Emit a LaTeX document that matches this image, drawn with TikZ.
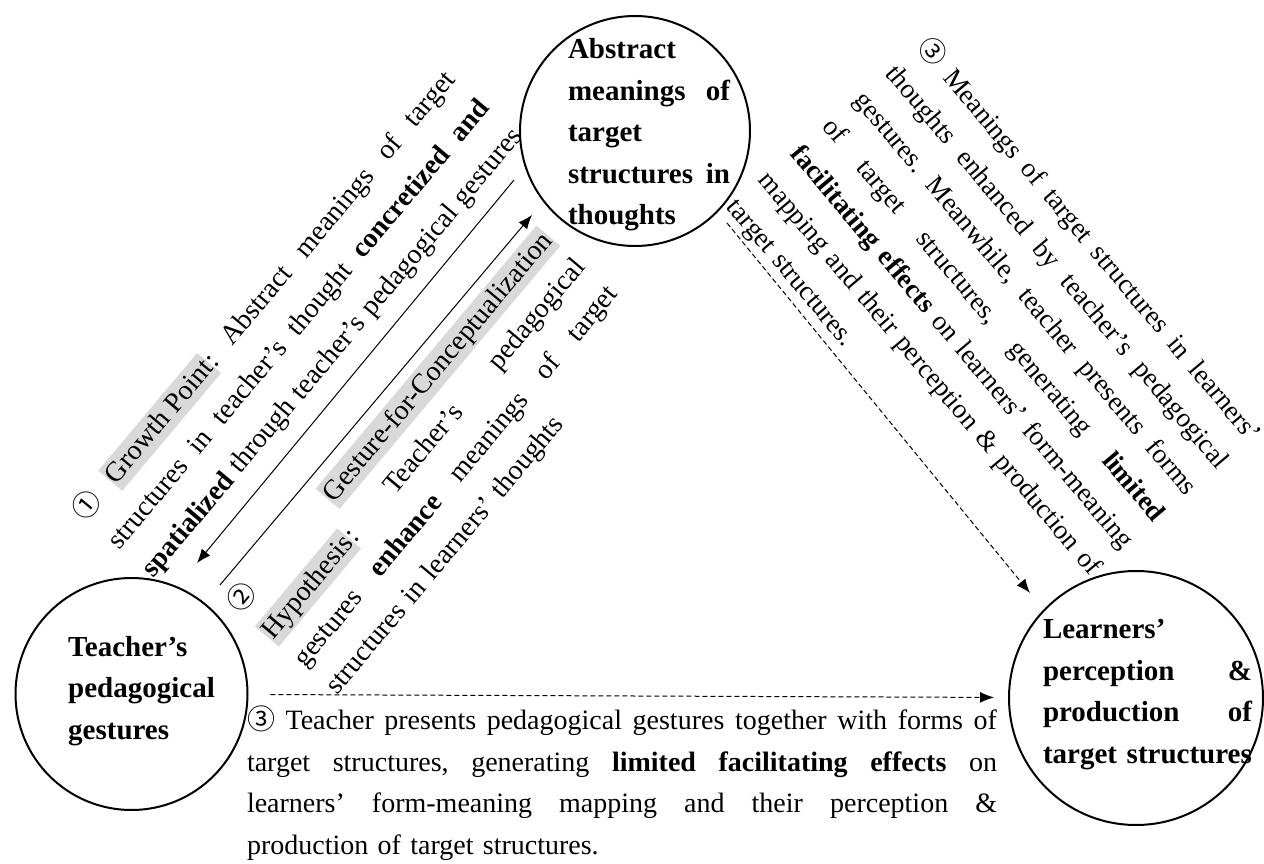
\documentclass[tikz,border=0pt]{standalone}
\usepackage{fontspec}
\setmainfont{Liberation Serif}
\newfontfamily\cjkfont{Noto Sans CJK SC}
\usetikzlibrary{arrows.meta}
\definecolor{hlgray}{HTML}{D9D9D9}
% circled step numbers
\newcommand\cnum[1]{{\cjkfont #1}}
% grey highlight behind key terms
\newcommand\hlbox[1]{{\setlength{\fboxsep}{0pt}\colorbox{hlgray}{\rule[-0.28em]{0pt}{1.12em}\kern1pt #1\kern1pt}}}
% one fully justified line of a given width: every interword space stretches equally
\newcommand\jline[2]{\leavevmode{\frenchspacing\spaceskip=0.25em plus 1fil minus 0.08em\relax\hbox to #1{#2}}}

\begin{document}
\begin{tikzpicture}[x=1pt,y=1pt,
  circ/.style={draw, circle, line width=2pt, inner sep=0pt},
  boldtxt/.style={font=\fontsize{29}{41.5}\selectfont\bfseries, align=left, inner sep=0pt},
  note/.style={font=\fontsize{28}{42}\selectfont, align=left, inner sep=0pt},
  solidarrow/.style={-{Latex[length=14pt,width=11pt]}, line width=1pt},
  dashedarrow/.style={-{Latex[length=14pt,width=11pt]}, line width=1pt, dash pattern=on 5pt off 3pt}
]
\useasboundingbox (0,0) rectangle (1264,863);

% the three concepts
\node[circ, minimum size=230pt] (abs) at (635,732) {};
\node[circ, minimum size=232pt] (tea) at (131.5,169) {};
\node[circ, minimum size=254pt] (lea) at (1136,165) {};

\node[boldtxt, text width=162pt] (abstxt) at (649,728)
  {Abstract\\\jline{162pt}{meanings of}\\target\\\jline{162pt}{structures in}\\thoughts};
\node[boldtxt, text width=160pt, anchor=west] (teatxt) at (68,172)
  {Teacher’s\\pedagogical\\gestures};
\node[boldtxt, text width=209pt] (leatxt) at (1147.5,168.5)
  {Learners’\\\jline{209pt}{perception \&}\\\jline{209pt}{production of}\\\mbox{target structures}};

% step 1 and step 2 (left side)
\node[note, text width=577pt, rotate=50, font=\fontsize{28}{44}\selectfont] (growth) at (298,539)
  {\jline{577pt}{\cnum{①} \hlbox{Growth Point}: Abstract meanings of target}\\
   \jline{577pt}{structures in teacher’s thought \textbf{concretized and}}\\
   \jline{577pt}{\textbf{spatialized} through teacher’s pedagogical gestures}};

\node[note, text width=488pt, rotate=50] (gesture) at (439,400.5)
  {\jline{488pt}{\cnum{②} \hlbox{Gesture-for-Conceptualization}}\\
   \jline{488pt}{\hlbox{Hypothesis}: Teacher’s pedagogical}\\
   \jline{488pt}{gestures \textbf{enhance} meanings of target}\\
   structures in learners’ thoughts};

% step 3 (right side)
\node[note, text width=517pt, rotate=-50, font=\fontsize{27.2}{41.5}\selectfont] (meanings) at (994,543)
  {\jline{517pt}{\cnum{③} Meanings of target structures in learners’}\\
   \jline{517pt}{thoughts enhanced by teacher’s pedagogical}\\
   \jline{517pt}{gestures. Meanwhile, teacher presents forms}\\
   \jline{517pt}{of target structures, generating \textbf{limited}}\\
   \jline{517pt}{\textbf{facilitating effects} on learners’ form-meaning}\\
   \jline{517pt}{mapping and their perception \& production of}\\
   target structures.};

% step 3 (bottom)
\node[note, text width=750pt, font=\fontsize{28}{41.5}\selectfont] (bottom) at (622,80)
  {\jline{750pt}{\cnum{③} Teacher presents pedagogical gestures together with forms of}\\
   \jline{750pt}{target structures, generating \textbf{limited facilitating effects} on}\\
   \jline{750pt}{learners’ form-meaning mapping and their perception \&}\\
   production of target structures.};

% arrow end points
\coordinate (a1s) at (514,683);
\coordinate (a1e) at (197,300);
\coordinate (a2s) at (220,278);
\coordinate (a2e) at (532,648);
\coordinate (d2s) at (727,640);
\coordinate (d2e) at (1030,270);

\draw[solidarrow] (a1s) -- (a1e);
\draw[solidarrow] (a2s) -- (a2e);
\draw[dashedarrow, shorten <=22pt, shorten >=14pt] (tea) -- (lea);
\draw[dashedarrow] (d2s) -- (d2e);
\end{tikzpicture}
\end{document}
